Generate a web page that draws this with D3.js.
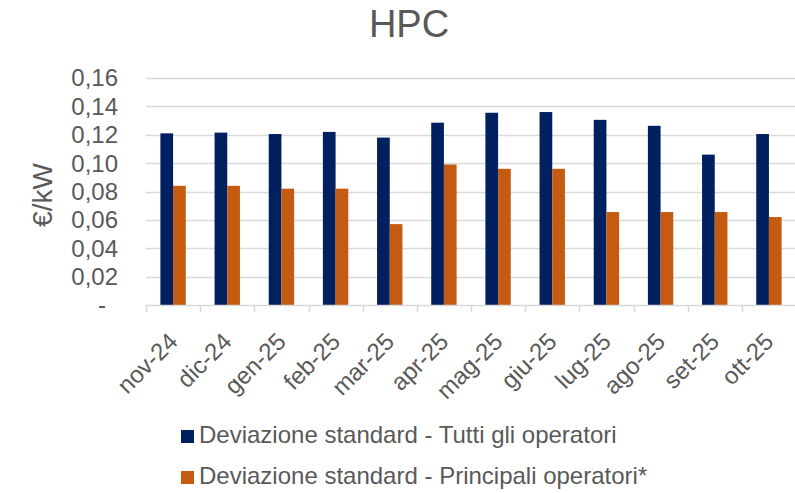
<!DOCTYPE html>
<html>
<head>
<meta charset="utf-8">
<script src="https://cdn.jsdelivr.net/npm/d3@7"></script>
<style>
  html, body { margin: 0; padding: 0; background: #fff; }
  svg { display: block; font-family: "Liberation Sans", Arial, sans-serif; }
</style>
</head>
<body>
<svg id="chart" width="795" height="493"></svg>
<script>
const categories = ["nov-24","dic-24","gen-25","feb-25","mar-25","apr-25","mag-25","giu-25","lug-25","ago-25","set-25","ott-25"];
const seriesNames = ["Deviazione standard - Tutti gli operatori", "Deviazione standard - Principali operatori*"];
const tuttiValues = [0.121, 0.1215, 0.1205, 0.122, 0.118, 0.1285, 0.1355, 0.136, 0.1305, 0.1263, 0.106, 0.1205];
const principaliValues = [0.084, 0.084, 0.082, 0.082, 0.057, 0.099, 0.096, 0.096, 0.0655, 0.0655, 0.0655, 0.062];
const yTicks = [0, 0.02, 0.04, 0.06, 0.08, 0.10, 0.12, 0.14, 0.16];
const colors = ["#002060", "#C55A11"];
const title = "HPC";
const yTitle = "€/kW";

const svg = d3.select("#chart");
const W = 795, H = 493;
const plot = { left: 146, right: 796, top: 78, bottom: 305 };
const textColor = "#595959";
const gridColor = "#d9d9d9";

const x0 = d3.scaleBand().domain(categories).range([plot.left, plot.right]).paddingInner(0).paddingOuter(0);
const x1 = d3.scaleBand().domain(d3.range(seriesNames.length)).range([0, x0.bandwidth()]).paddingInner(0).paddingOuter(1.134);
const y = d3.scaleLinear().domain([0, 0.16]).range([plot.bottom, plot.top]);

// title
svg.append("text").attr("x", 409).attr("y", 37).attr("text-anchor", "middle")
  .attr("font-size", 38).attr("fill", textColor).text(title);

// gridlines
svg.append("g").selectAll("line").data(yTicks.filter(d => d > 0)).join("line")
  .attr("x1", plot.left).attr("x2", W)
  .attr("y1", d => Math.round(y(d)) + 0.5).attr("y2", d => Math.round(y(d)) + 0.5)
  .attr("stroke", gridColor).attr("stroke-width", 1.5);

// y tick labels
const fmt = d => d === 0 ? "-" : d3.format(".2f")(d).replace(".", ",");
svg.append("g").selectAll("text").data(yTicks).join("text")
  .attr("x", d => d === 0 ? 106 : 118)
  .attr("y", d => y(d)).attr("dy", "0.35em")
  .attr("text-anchor", "end").attr("font-size", 24).attr("fill", textColor)
  .text(fmt);

// y title
svg.append("text").attr("transform", "translate(52,195) rotate(-90)")
  .attr("text-anchor", "middle").attr("font-size", 28).attr("fill", textColor).text(yTitle);

// bars
const seriesData = [tuttiValues, principaliValues];
const groups = svg.append("g").selectAll("g").data(seriesData).join("g")
  .attr("fill", (d, i) => colors[i]);
groups.each(function(vals, si) {
  d3.select(this).selectAll("rect").data(vals).join("rect")
    .attr("x", (v, i) => x0(categories[i]) + x1(si))
    .attr("width", x1.bandwidth())
    .attr("y", v => y(v))
    .attr("height", v => y(0) - y(v));
});

// x axis
const xAxis = svg.append("g").attr("transform", `translate(0,${plot.bottom})`);
xAxis.append("line").attr("x1", plot.left).attr("x2", W).attr("y1", 0.5).attr("y2", 0.5)
  .attr("stroke", gridColor).attr("stroke-width", 1.5);
const boundaries = categories.map(c => x0(c)).concat([plot.right]);
xAxis.selectAll("line.tick").data(boundaries).join("line").attr("class", "tick")
  .attr("x1", d => Math.round(d) + 0.5).attr("x2", d => Math.round(d) + 0.5)
  .attr("y1", 0).attr("y2", 7).attr("stroke", gridColor).attr("stroke-width", 1.5);
xAxis.selectAll("text").data(categories).join("text")
  .attr("transform", d => `translate(${x0(d) + x0.bandwidth() / 2 + 6},38) rotate(-45)`)
  .attr("text-anchor", "end").attr("font-size", 24).attr("fill", textColor).text(d => d);

// legend
const legend = svg.append("g").selectAll("g").data(seriesNames).join("g")
  .attr("transform", (d, i) => `translate(181,${443 + i * 41})`);
legend.append("rect").attr("x", 0).attr("y", -13).attr("width", 13).attr("height", 13)
  .attr("fill", (d, i) => colors[i]);
legend.append("text").attr("x", 18).attr("y", 0).attr("font-size", 24).attr("fill", textColor).text(d => d);
</script>
</body>
</html>
